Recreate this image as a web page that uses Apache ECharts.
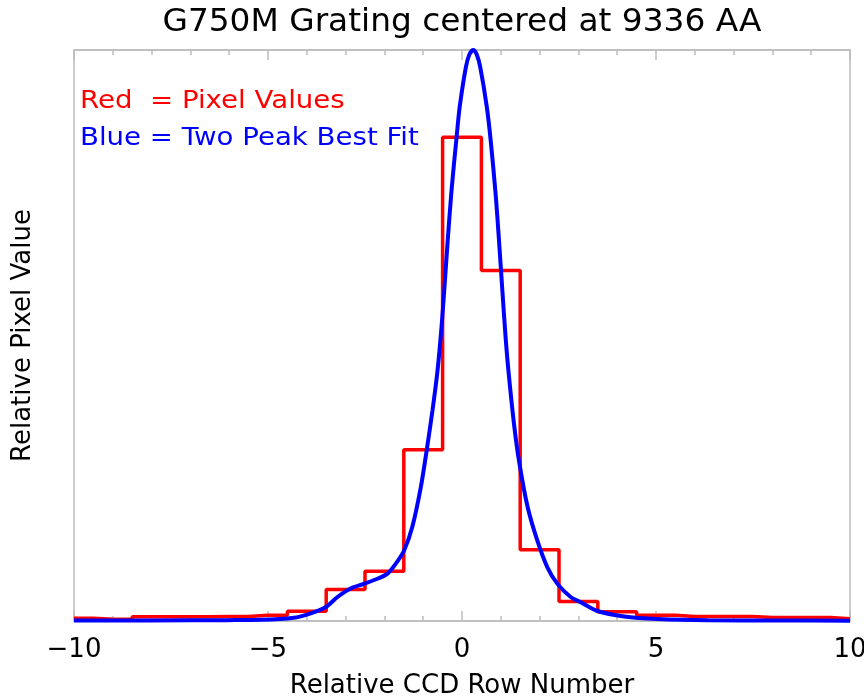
<!DOCTYPE html>
<html>
<head>
<meta charset="utf-8">
<script src="https://cdn.jsdelivr.net/npm/echarts@6/dist/echarts.min.js"></script>
<style>
    html, body { margin: 0; padding: 0; background: #fff; }
    #chart { width: 864px; height: 696px; }
</style>
</head>
<body>
<div id="chart"></div>
<script>
    // pixel values, one per CCD row (bin centered on row)
    var rows = [-10, -9, -8, -7, -6, -5, -4, -3, -2, -1, 0, 1, 2, 3, 4, 5, 6, 7, 8, 9, 10];
    var pixelValues = [0.005, 0.003, 0.0075, 0.0075, 0.008, 0.010, 0.017, 0.055, 0.087, 0.300, 0.847,
                       0.614, 0.125, 0.034, 0.016, 0.010, 0.0077, 0.0077, 0.006, 0.006, 0.004];

    // two peak best fit
    var fitX = [-10, -8.03, -6.05, -5.19, -4.34, -3.9, -3.52, -3.21, -2.87, -2.53, -2.18, -1.92, -1.71,
                -1.49, -1.28, -1.06, -0.91, -0.76, -0.63, -0.51, -0.38, -0.27, -0.14, -0.06, 0.1, 0.19,
                0.29, 0.38, 0.47, 0.64, 0.74, 0.87, 0.95, 1.04, 1.12, 1.2, 1.34, 1.47, 1.69, 1.94, 2.2, 2.46,
                2.8, 3.06, 3.49, 4.18, 5.04, 6.33, 8.21, 10];
    var fitY = [0.001, 0.001, 0.0015, 0.002, 0.0056, 0.0135, 0.024, 0.042, 0.057, 0.065, 0.074, 0.083, 0.100,
                0.124, 0.165, 0.235, 0.299, 0.369, 0.439, 0.53, 0.655, 0.754, 0.847, 0.900, 0.970, 0.992,
                1.0, 0.992, 0.970, 0.900, 0.841, 0.745, 0.67, 0.579, 0.50, 0.436, 0.345, 0.28, 0.20, 0.141, 0.094, 0.065,
                0.042, 0.033, 0.0175, 0.008, 0.0035, 0.0012, 0.0008, 0.0005];

    var xTicks = [-10, -5, 0, 5, 10];

    var font = 'DejaVu Sans';
    var gray = '#bdbdbd';

    var stepData = rows.map(function (r, i) { return [r, pixelValues[i]]; });
    var fitData = fitX.map(function (x, i) { return [x, fitY[i]]; });

    function xAxisCfg(pos, labels) {
        return {
            type: 'value',
            position: pos,
            min: xTicks[0],
            max: xTicks[xTicks.length - 1],
            interval: 5,
            axisLine: { show: true, onZero: false, lineStyle: { color: gray, width: 1.5 } },
            axisTick: { show: true, inside: true, length: 10, lineStyle: { color: gray, width: 1.5 } },
            minorTick: { show: true, splitNumber: 5, length: 5, lineStyle: { color: gray, width: 1.5 } },
            splitLine: { show: false },
            axisLabel: {
                show: labels,
                color: '#000',
                fontFamily: font,
                fontSize: 26,
                margin: 16,
                formatter: function (v) { return String(v).replace('-', '\u2212'); }
            },
            name: labels ? 'Relative CCD Row Number' : '',
            nameLocation: 'middle',
            nameGap: 52,
            nameTextStyle: { color: '#000', fontFamily: font, fontSize: 26 }
        };
    }

    var chart = echarts.init(document.getElementById('chart'));
    chart.setOption({
        animation: false,
        grid: {
            left: 74, right: 14, top: 50, bottom: 75,
            outerBoundsMode: 'none',
            show: true, borderColor: gray, borderWidth: 1.5
        },
        xAxis: [xAxisCfg('bottom', true), xAxisCfg('top', false)],
        yAxis: {
            type: 'value',
            min: 0,
            max: 1,
            axisLine: { show: false },
            axisTick: { show: false },
            axisLabel: { show: false },
            splitLine: { show: false },
            name: 'Relative Pixel Value',
            nameLocation: 'middle',
            nameRotate: 90,
            nameGap: 38,
            nameTextStyle: { color: '#000', fontFamily: font, fontSize: 26 }
        },
        graphic: [
            {
                type: 'text', x: 462, y: 7, scaleX: 1.025,
                style: { text: 'G750M Grating centered at 9336 AA', fill: '#000', font: '32px "DejaVu Sans"', textAlign: 'center' }
            },
            {
                type: 'text', x: 80, y: 90, scaleX: 1.15,
                style: { text: 'Red  = Pixel Values', fill: '#ff0000', font: '24px "DejaVu Sans"' }
            },
            {
                type: 'text', x: 80, y: 127, scaleX: 1.15,
                style: { text: 'Blue = Two Peak Best Fit', fill: '#0000ff', font: '24px "DejaVu Sans"' }
            }
        ],
        series: [
            {
                type: 'line',
                step: 'middle',
                data: stepData,
                showSymbol: false,
                lineStyle: { color: '#ff0000', width: 3.5 }
            },
            {
                type: 'line',
                data: fitData,
                smooth: 0.3,
                showSymbol: false,
                lineStyle: { color: '#0000ff', width: 4 }
            }
        ]
    });
</script>
</body>
</html>
